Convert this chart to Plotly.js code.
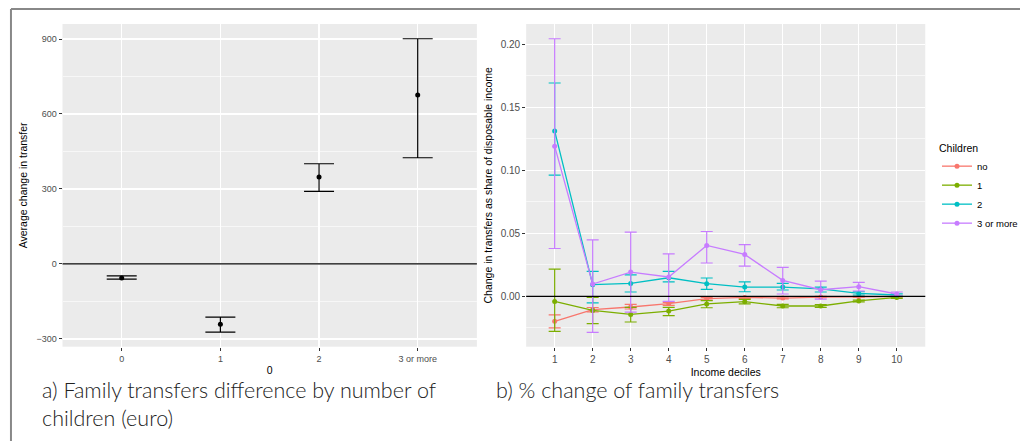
<!DOCTYPE html>
<html>
<head>
<meta charset="utf-8">
<script src="https://cdn.plot.ly/plotly-3.0.1.min.js"></script>
<style>html,body{margin:0;padding:0;background:#fff;}#chart{width:1023px;height:441px;}</style>
</head>
<body>
<div id="chart"></div>
<script>
// ---- Panel a: family transfers difference by number of children (euro)
const childCats = ["0", "1", "2", "3 or more"];
const childMean = [-56, -241, 348, 676];
const childUpper = [-48, -213, 401, 901];
const childLower = [-61, -273, 290, 425];

// ---- Panel b: change in transfers as share of disposable income, by decile
const deciles = [1, 2, 3, 4, 5, 6, 7, 8, 9, 10];
const seriesNames = ["no", "1", "2", "3 or more"];
const seriesColors = ["#F8766D", "#7CAE00", "#00BFC4", "#C77CFF"];

const noMean  = [-0.0198, -0.0105, -0.0084, -0.0058, -0.0018, -0.0008, -0.0013, -0.0005, -0.0003, -0.0002];
const noUpper = [-0.0147, -0.0088, -0.0063, -0.0048, -0.0008, -0.0002, -0.0005, 0.0000, 0.0001, 0.0001];
const noLower = [-0.0249, -0.0122, -0.0100, -0.0071, -0.0029, -0.0015, -0.0020, -0.0010, -0.0007, -0.0005];

const oneMean  = [-0.0040, -0.0111, -0.0143, -0.0116, -0.0060, -0.0042, -0.0076, -0.0076, -0.0036, -0.0008];
const oneUpper = [0.0217, -0.0008, -0.0087, -0.0087, -0.0034, -0.0024, -0.0063, -0.0066, -0.0029, -0.0002];
const oneLower = [-0.0277, -0.0216, -0.0203, -0.0153, -0.0090, -0.0060, -0.0090, -0.0087, -0.0044, -0.0015];

const twoMean  = [0.1313, 0.0093, 0.0103, 0.0148, 0.0101, 0.0074, 0.0074, 0.0059, 0.0024, 0.0011];
const twoUpper = [0.1693, 0.0198, 0.0170, 0.0198, 0.0146, 0.0116, 0.0103, 0.0074, 0.0037, 0.0020];
const twoLower = [0.0962, -0.0052, 0.0035, 0.0116, 0.0055, 0.0037, 0.0051, 0.0035, 0.0011, 0.0003];

const threeMean  = [0.1192, 0.0098, 0.0193, 0.0154, 0.0404, 0.0333, 0.0127, 0.0053, 0.0077, 0.0019];
const threeUpper = [0.2044, 0.0449, 0.0510, 0.0338, 0.0515, 0.0410, 0.0230, 0.0122, 0.0111, 0.0035];
const threeLower = [0.0380, -0.0285, -0.0124, -0.0040, 0.0265, 0.0241, 0.0019, -0.0021, 0.0043, 0.0003];

const bMeans = [noMean, oneMean, twoMean, threeMean];
const bUppers = [noUpper, oneUpper, twoUpper, threeUpper];
const bLowers = [noLower, oneLower, twoLower, threeLower];

const W = 1023, H = 441;
const px = v => v / W;
const py = v => 1 - v / H;

const tickFont = {family: "Liberation Sans, Arial, sans-serif", size: 9, color: "#4d4d4d"};
const titleFont = {family: "Liberation Sans, Arial, sans-serif", size: 10.5, color: "#000"};

const traces = [];
const childX = childCats.map((c, i) => i);
traces.push({
  type: "scatter", mode: "markers", x: childX, y: childMean,
  xaxis: "x", yaxis: "y", showlegend: false, hoverinfo: "skip",
  marker: {color: "#000", size: 5},
  error_y: {type: "data", symmetric: false,
    array: childUpper.map((u, i) => u - childMean[i]),
    arrayminus: childMean.map((m, i) => m - childLower[i]),
    color: "#000", thickness: 1.2, width: 15}
});

for (let s = 0; s < seriesNames.length; s++) {
  const m = bMeans[s], u = bUppers[s], l = bLowers[s];
  traces.push({
    type: "scatter", mode: "lines+markers", name: seriesNames[s],
    x: deciles, y: m, xaxis: "x2", yaxis: "y2",
    line: {color: seriesColors[s], width: 1.3},
    marker: {color: seriesColors[s], size: 5},
    error_y: {type: "data", symmetric: false,
      array: u.map((v, i) => v - m[i]),
      arrayminus: m.map((v, i) => v - l[i]),
      color: seriesColors[s], thickness: 1.2, width: 6}
  });
}

const layout = {
  width: W, height: H,
  margin: {l: 0, r: 0, t: 0, b: 0},
  paper_bgcolor: "#fff", plot_bgcolor: "#EBEBEB",
  showlegend: true,
  legend: {
    x: px(940), y: py(138), xanchor: "left", yanchor: "top",
    title: {text: "Children", font: {family: "Liberation Sans, Arial, sans-serif", size: 10.5, color: "#000"}},
    font: {family: "Liberation Sans, Arial, sans-serif", size: 9.5, color: "#000"},
    tracegroupgap: 0, itemwidth: 30, bgcolor: "rgba(0,0,0,0)"
  },
  xaxis: {
    domain: [px(62.7), px(478.3)], anchor: "y",
    range: [-0.6, 3.6], tickmode: "array", tickvals: childX, ticktext: childCats,
    showgrid: true, gridcolor: "#fff", gridwidth: 1.3, zeroline: false,
    ticks: "outside", ticklen: 3, tickcolor: "#333", tickwidth: 1,
    tickfont: tickFont,
    title: {text: "0", font: titleFont, standoff: 4}
  },
  yaxis: {
    domain: [py(346.7), py(24)], anchor: "x",
    range: [-331, 960], tickmode: "linear", tick0: 0, dtick: 300,
    showgrid: true, gridcolor: "#fff", gridwidth: 1.3, zeroline: false,
    minor: {tickmode: "linear", tick0: 0, dtick: 150, showgrid: true, gridcolor: "#f7f7f7", gridwidth: 1, ticks: ""},
    ticks: "outside", ticklen: 3, tickcolor: "#333", tickwidth: 1,
    tickfont: tickFont,
    title: {text: "Average change in transfer", font: titleFont, standoff: 6}
  },
  xaxis2: {
    domain: [px(527.7), px(928)], anchor: "y2",
    range: [0.25, 10.75], tickmode: "array", tickvals: deciles,
    showgrid: true, gridcolor: "#fff", gridwidth: 1.3, zeroline: false,
    ticks: "outside", ticklen: 3, tickcolor: "#333", tickwidth: 1,
    tickfont: {family: "Liberation Sans, Arial, sans-serif", size: 10, color: "#4d4d4d"},
    title: {text: "Income deciles", font: titleFont, standoff: 4}
  },
  yaxis2: {
    domain: [py(346.7), py(24)], anchor: "x2",
    range: [-0.0399, 0.2161], tickmode: "linear", tick0: 0, dtick: 0.05, tickformat: ".2f",
    showgrid: true, gridcolor: "#fff", gridwidth: 1.3, zeroline: false,
    minor: {tickmode: "linear", tick0: 0, dtick: 0.025, showgrid: true, gridcolor: "#f7f7f7", gridwidth: 1, ticks: ""},
    ticks: "outside", ticklen: 3, tickcolor: "#333", tickwidth: 1,
    tickfont: {family: "Liberation Sans, Arial, sans-serif", size: 10, color: "#4d4d4d"},
    title: {text: "Change in transfers as share of disposable income", font: titleFont, standoff: 6}
  },
  shapes: [
    {type: "line", xref: "x domain", yref: "y", x0: 0, x1: 1, y0: 0, y1: 0, line: {color: "#000", width: 1.2}, layer: "above"},
    {type: "line", xref: "x2 domain", yref: "y2", x0: 0, x1: 1, y0: 0, y1: 0, line: {color: "#000", width: 1.2}, layer: "above"},
    {type: "line", xref: "paper", yref: "paper", x0: px(11), x1: 1, y0: py(9), y1: py(9), line: {color: "#888", width: 2}},
    {type: "line", xref: "paper", yref: "paper", x0: px(11), x1: px(11), y0: py(9), y1: 0, line: {color: "#888", width: 2}}
  ],
  annotations: [
    {xref: "paper", yref: "paper", x: px(40), y: py(375), xanchor: "left", yanchor: "top", align: "left",
     showarrow: false, text: "a) Family transfers difference by number of<br>children (euro)",
     font: {family: "Lato, sans-serif", size: 21.5, color: "#222", weight: 300}},
    {xref: "paper", yref: "paper", x: px(495), y: py(375), xanchor: "left", yanchor: "top", align: "left",
     showarrow: false, text: "b) % change of family transfers",
     font: {family: "Lato, sans-serif", size: 21.5, color: "#222", weight: 300}}
  ]
};

Plotly.newPlot("chart", traces, layout, {displayModeBar: false, staticPlot: true});
</script>
</body>
</html>
